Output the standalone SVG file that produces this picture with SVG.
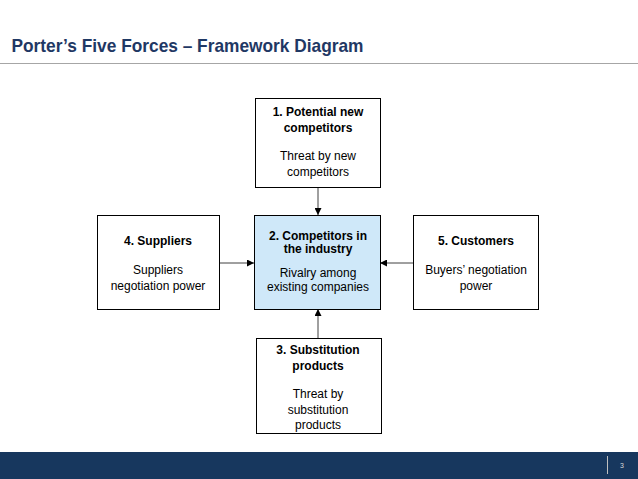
<svg xmlns="http://www.w3.org/2000/svg" width="638" height="479" viewBox="0 0 638 479">
<style>
.box{fill:#ffffff;stroke:#000000;stroke-width:1}
.hub{fill:#cfe8f9;stroke:#000000;stroke-width:1}
.t{font-family:"Liberation Sans",Arial,sans-serif;font-size:12px;fill:#000;text-anchor:middle}
.b{font-weight:bold}
.conn{stroke:#404040;stroke-width:1;fill:none;marker-end:url(#ah)}
</style>
<defs>
<marker id="ah" viewBox="0 0 10 10" refX="10" refY="5" markerWidth="7" markerHeight="7" markerUnits="userSpaceOnUse" orient="auto">
<path d="M0,0 L10,5 L0,10 z" fill="#000"/>
</marker>
</defs>
<rect width="638" height="479" fill="#ffffff"/>
<g id="title">
<text x="11.5" y="52" font-family="'Liberation Sans',Arial,sans-serif" font-weight="bold" font-size="18.5" fill="#1f3864" textLength="352" lengthAdjust="spacingAndGlyphs">Porter’s Five Forces – Framework Diagram</text>
<line x1="0" y1="63.5" x2="638" y2="63.5" stroke="#a6a6a6" stroke-width="1"/>
</g>
<g id="connectors">
<line class="conn" x1="318" y1="187" x2="318" y2="215"/>
<line class="conn" x1="219" y1="263" x2="254" y2="263"/>
<line class="conn" x1="413" y1="263" x2="380" y2="263"/>
<line class="conn" x1="318" y1="338" x2="318" y2="309"/>
</g>
<g id="node1">
<rect class="box" x="255.5" y="98.5" width="125" height="89"/>
<text class="t b" x="318" y="116">1. Potential new</text>
<text class="t b" x="318" y="132">competitors</text>
<text class="t" x="318" y="160">Threat by new</text>
<text class="t" x="318" y="176">competitors</text>
</g>
<g id="node2">
<rect class="hub" x="254.5" y="215.5" width="126" height="94"/>
<text class="t b" x="318" y="240">2. Competitors in</text>
<text class="t b" x="318" y="253">the industry</text>
<text class="t" x="318" y="277">Rivalry among</text>
<text class="t" x="318" y="291">existing companies</text>
</g>
<g id="node4">
<rect class="box" x="97.5" y="215.5" width="122" height="94"/>
<text class="t b" x="158" y="245">4. Suppliers</text>
<text class="t" x="158" y="274">Suppliers</text>
<text class="t" x="158" y="290">negotiation power</text>
</g>
<g id="node5">
<rect class="box" x="413.5" y="215.5" width="125" height="94"/>
<text class="t b" x="476" y="245">5. Customers</text>
<text class="t" x="476" y="274">Buyers’ negotiation</text>
<text class="t" x="476" y="290">power</text>
</g>
<g id="node3">
<rect class="box" x="256.5" y="338.5" width="125" height="95"/>
<text class="t b" x="318" y="354">3. Substitution</text>
<text class="t b" x="318" y="370">products</text>
<text class="t" x="318" y="398">Threat by</text>
<text class="t" x="318" y="414">substitution</text>
<text class="t" x="318" y="429">products</text>
</g>
<g id="footer">
<rect x="0" y="452" width="638" height="27" fill="#17375e"/>
<line x1="607.5" y1="456" x2="607.5" y2="474" stroke="#bfbfbf" stroke-width="1"/>
<text x="622" y="468" font-family="'Liberation Sans',Arial,sans-serif" font-size="7" fill="#d9d9d9" text-anchor="middle">3</text>
</g>
</svg>
